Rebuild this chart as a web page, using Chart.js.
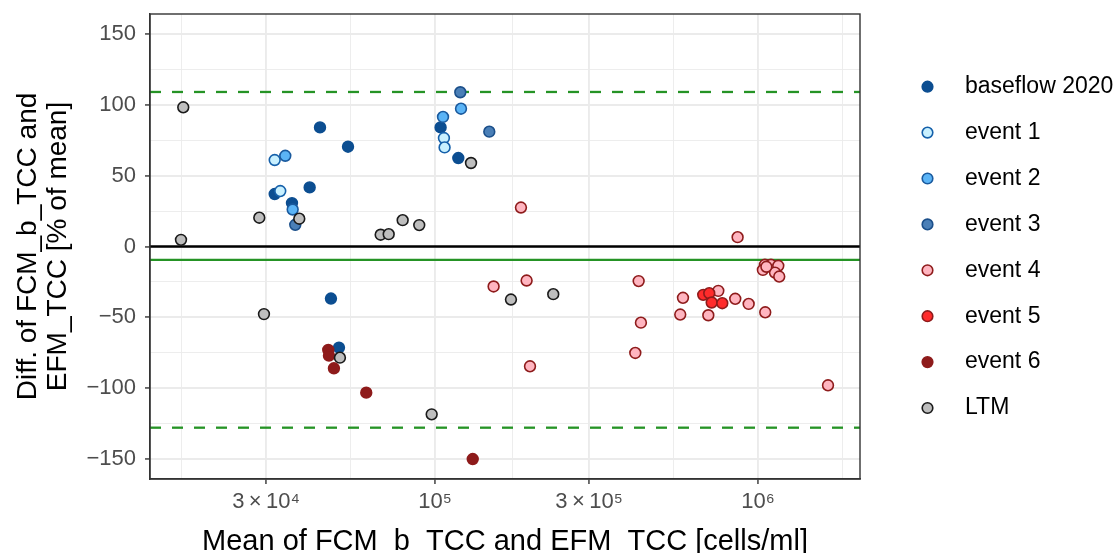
<!DOCTYPE html>
<html><head><meta charset="utf-8">
<script src="https://cdn.jsdelivr.net/npm/chart.js@4.4.1/dist/chart.umd.min.js"></script>
<style>html,body{margin:0;padding:0;background:#fff;}#wrap{width:1118px;height:553px;}canvas{display:block;}</style>
</head><body><div id="wrap"><canvas id="c" width="1118" height="553"></canvas></div>
<script>
// ---- data ----
const seriesNames = ['baseflow 2020','event 1','event 2','event 3','event 4','event 5','event 6','LTM'];
const baseflowX = [44060, 53800, 31900, 40930, 36080, 104100, 118100, 47640, 50440];
const baseflowY = [84.0, 70.4, 37.0, 41.7, 30.6, 84.0, 62.4, -36.7, -71.3];
const event1X = [31900, 33190, 106600, 107100];
const event1Y = [61.0, 39.1, 76.5, 69.9];
const event2X = [34400, 36260, 120400, 105900];
const event2Y = [64.0, 26.1, 97.2, 91.4];
const event3X = [36940, 119800, 147300];
const event3Y = [15.3, 108.8, 81.0];
const event4X = [184600, 865000, 151900, 192200, 196900, 427200, 434200, 417100, 586000, 574700, 753800, 702000, 850600, 935900, 1053400, 1051000, 1036000, 1097000, 1156000, 1129000, 1164000, 1062000, 1647800];
const event4Y = [27.5, 6.6, -28.2, -24.0, -84.5, -24.4, -53.7, -75.1, -36.2, -48.0, -31.3, -48.5, -36.9, -40.5, -46.4, -12.9, -16.5, -12.9, -13.6, -18.4, -21.2, -14.3, -97.9];
const event5X = [677000, 706700, 719000, 775500];
const event5Y = [-34.1, -32.9, -39.5, -40.0];
const event6X = [46740, 46970, 48660, 61270, 130900];
const event6Y = [-73.0, -77.0, -85.9, -103.1, -149.9];
const ltmX = [16622, 16355, 28580, 38010, 67900, 71900, 79430, 89400, 129300, 29550, 50790, 97680, 171900, 232400];
const ltmY = [98.2, 4.7, 20.3, 19.6, 8.3, 8.7, 18.6, 15.1, 58.9, -47.7, -78.4, -118.4, -37.4, -33.6];
const meanDiff = -9.4;
const upperLoA = 109.0;
const lowerLoA = -127.8;
const xTickValues = [30000, 100000, 300000, 1000000];
const xTickLabels = ['3\u2009×\u200910⁴', '10⁵', '3\u2009×\u200910⁵', '10⁶'];
const yTickValues = [-150, -100, -50, 0, 50, 100, 150];
const xMin = 13113, xMax = 2070000, yMin = -164, yMax = 164;

// ---- styles ----
const fills = ['#0C4E91','#C8F0FF','#5BB4F6','#4A7FB7','#FFB5C0','#FF2B2B','#8E1B1B','#BEBEBE'];
const borders = ['#0C4E91','#1560AA','#1A5A9E','#1B4F8A','#8E1B1B','#8E1B1B','#8E1B1B','#1A1A1A'];
const xs = [baseflowX, event1X, event2X, event3X, event4X, event5X, event6X, ltmX];
const ys = [baseflowY, event1Y, event2Y, event3Y, event4Y, event5Y, event6Y, ltmY];
const FONT = '"Liberation Sans", Arial, sans-serif';
const GREEN = '#259325';

const pointSets = seriesNames.map((name, i) => ({
  type: 'scatter',
  label: name,
  data: xs[i].map((x, j) => ({x: x, y: ys[i][j]})),
  backgroundColor: fills[i],
  borderColor: borders[i],
  borderWidth: 1.6,
  pointRadius: 5.4,
  pointHoverRadius: 5.4,
  order: 10 - i
}));
function hline(y, color, dash, order) {
  return {type: 'line', label: '', data: [{x: xMin, y: y}, {x: xMax, y: y}],
    borderColor: color, borderWidth: 2.3, borderDash: dash, pointRadius: 0, order: order, fill: false};
}
const lineSets = [
  hline(0, '#000000', [], 20),
  hline(meanDiff, GREEN, [], 21),
  hline(upperLoA, GREEN, [11, 11], 22),
  hline(lowerLoA, GREEN, [11, 11], 23)
];

const xMinor = [];
{
  const l = xTickValues.map(v => Math.log10(v));
  const ext = [l[0] - (l[1] - l[0]), ...l, l[l.length - 1] + (l[l.length - 1] - l[l.length - 2])];
  for (let i = 0; i < ext.length - 1; i++) xMinor.push(Math.pow(10, (ext[i] + ext[i + 1]) / 2));
}
const isMajorX = v => xTickValues.some(t => Math.abs(t - v) / t < 1e-6);

const panelBorder = {
  id: 'panelBorder',
  afterDatasetsDraw(chart) {
    const {ctx, chartArea: a} = chart;
    ctx.save();
    ctx.strokeStyle = '#333333';
    ctx.lineWidth = 1.4;
    ctx.strokeRect(a.left, a.top, a.right - a.left, a.bottom - a.top);
    ctx.restore();
  }
};
const legendPlugin = {
  id: 'customLegend',
  afterDraw(chart) {
    const ctx = chart.ctx;
    ctx.save();
    seriesNames.forEach((n, i) => {
      const y = 86.7 + i * 45.9;
      ctx.beginPath();
      ctx.arc(927.5, y, 5.3, 0, Math.PI * 2);
      ctx.fillStyle = fills[i];
      ctx.fill();
      ctx.lineWidth = 1.6;
      ctx.strokeStyle = borders[i];
      ctx.stroke();
      ctx.fillStyle = '#000000';
      ctx.font = '23px ' + FONT;
      ctx.textBaseline = 'middle';
      ctx.textAlign = 'left';
      ctx.fillText(n, 965, y);
    });
    ctx.restore();
  }
};

new Chart(document.getElementById('c'), {
  type: 'scatter',
  data: {datasets: [...pointSets, ...lineSets]},
  options: {
    responsive: false,
    animation: false,
    devicePixelRatio: 1,
    layout: {padding: {left: 0, right: 258, top: 14, bottom: 0}},
    plugins: {legend: {display: false}, tooltip: {enabled: false}},
    scales: {
      x: {
        type: 'logarithmic',
        min: xMin, max: xMax,
        afterBuildTicks(scale) {
          scale.ticks = [...xTickValues, ...xMinor].sort((a, b) => a - b).map(v => ({value: v}));
        },
        afterFit(scale) { scale.height = 74; scale.paddingLeft = 0; scale.paddingRight = 0; },
        ticks: {
          autoSkip: false, maxRotation: 0, minRotation: 0, padding: 5,
          color: '#4D4D4D', font: {family: FONT, size: 22},
          callback(v) { const i = xTickValues.findIndex(t => Math.abs(t - v) / t < 1e-6); return i >= 0 ? xTickLabels[i] : ''; }
        },
        grid: {
          color: '#EBEBEB',
          lineWidth: c => (c.tick && isMajorX(c.tick.value)) ? 1.9 : 0.9,
          tickColor: c => (c.tick && isMajorX(c.tick.value)) ? '#333333' : 'rgba(0,0,0,0)',
          tickLength: 5, tickWidth: 1.4
        },
        border: {display: true, color: '#333333', width: 1.4},
        title: {display: true, text: 'Mean of FCM_b_TCC and EFM_TCC [cells/ml]', color: '#000000',
          font: {family: FONT, size: 29}, padding: {top: 0, bottom: -6}}
      },
      y: {
        type: 'linear',
        min: yMin, max: yMax,
        afterBuildTicks(scale) {
          const t = [];
          for (let v = -150; v <= 150; v += 25) t.push({value: v});
          scale.ticks = t;
        },
        afterFit(scale) { scale.width = 150; scale.paddingTop = 0; scale.paddingBottom = 0; },
        ticks: {
          padding: 9, color: '#4D4D4D', font: {family: FONT, size: 22},
          callback(v) { return yTickValues.includes(v) ? String(v).replace('-', '−') : ''; }
        },
        grid: {
          color: '#EBEBEB',
          lineWidth: c => (c.tick && yTickValues.includes(c.tick.value)) ? 1.9 : 0.9,
          tickColor: c => (c.tick && yTickValues.includes(c.tick.value)) ? '#333333' : 'rgba(0,0,0,0)',
          tickLength: 5, tickWidth: 1.4
        },
        border: {display: true, color: '#333333', width: 1.4},
        title: {display: true, text: ['Diff. of FCM_b_TCC and', 'EFM_TCC [% of mean]'], color: '#000000',
          font: {family: FONT, size: 28, lineHeight: 1.05}, padding: {top: 14, bottom: 0}}
      }
    }
  },
  plugins: [panelBorder, legendPlugin]
});
</script></body></html>
